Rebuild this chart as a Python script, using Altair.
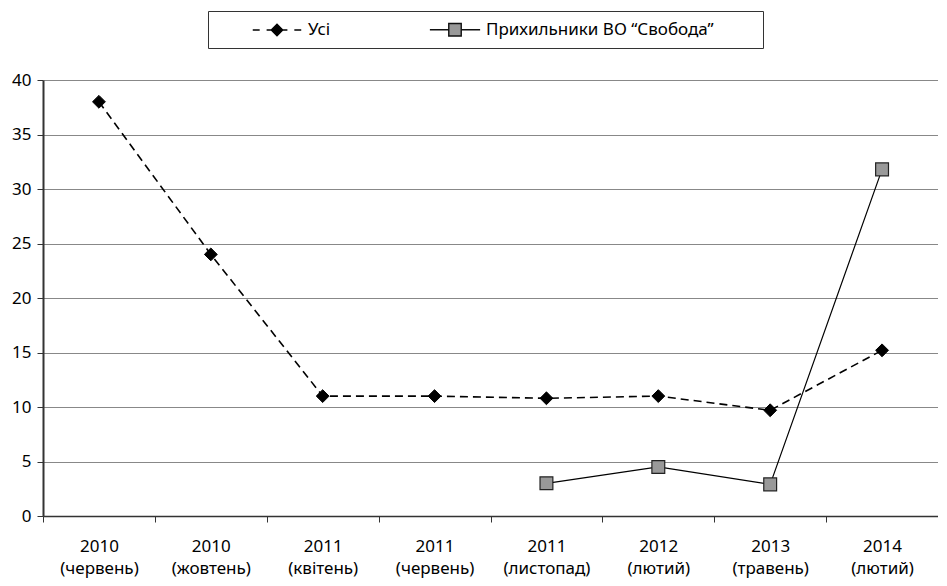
import altair as alt
import pandas as pd

categories = ["2010 (червень)", "2010 (жовтень)", "2011 (квітень)", "2011 (червень)",
              "2011 (листопад)", "2012 (лютий)", "2013 (травень)", "2014 (лютий)"]
series_names = ["Усі", "Прихильники ВО “Свобода”"]
all_values = [38, 24, 11, 11, 10.8, 11, 9.7, 15.2]
svoboda_categories = ["2011 (листопад)", "2012 (лютий)", "2013 (травень)", "2014 (лютий)"]
svoboda_values = [3.0, 4.5, 2.9, 31.8]
y_ticks = [0, 5, 10, 15, 20, 25, 30, 35, 40]

rows = [{"cat": c, "value": v, "series": series_names[0]} for c, v in zip(categories, all_values)]
rows += [{"cat": c, "value": v, "series": series_names[1]} for c, v in zip(svoboda_categories, svoboda_values)]
df = pd.DataFrame(rows)

FONT = "Noto Sans"

legend_paths = [
    "M-2.8,0H-2M-1.2,0H-0.55M0,-0.66L0.66,0L0,0.66L-0.66,0ZM0.55,0H1.2M2,0H2.8",
    "M-2.9,0H-0.72M-0.72,-0.72H0.72V0.72H-0.72ZM0.72,0H2.9",
]

x_enc = alt.X("cat:N", sort=categories,
              scale=alt.Scale(type="band", domain=categories, paddingInner=0, paddingOuter=0),
              axis=alt.Axis(title=None, labelAngle=0, tickBand="extent", grid=False,
                            labelExpr="split(datum.label, ' ')",
                            labelFont=FONT, labelFontSize=17, labelColor="black",
                            labelLineHeight=22, labelPadding=16, tickSize=6,
                            tickColor="#333", domainColor="#333", domainWidth=1.5))
y_enc = alt.Y("value:Q", scale=alt.Scale(domain=[0, 40], nice=False),
              axis=alt.Axis(title=None, values=y_ticks, grid=True, gridColor="#888",
                            gridWidth=1, labelFont=FONT, labelFontSize=17,
                            labelColor="black", tickSize=6, labelPadding=6,
                            tickColor="#333", domainColor="#333", domainWidth=2))

base = alt.Chart(df)

line_all = base.transform_filter(alt.datum.series == series_names[0]).mark_line(
    color="black", strokeWidth=1.6, strokeDash=[8, 5]).encode(x=x_enc, y=y_enc)
line_sv = base.transform_filter(alt.datum.series == series_names[1]).mark_line(
    color="black", strokeWidth=1.2).encode(x=x_enc, y=y_enc)
pts_all = base.transform_filter(alt.datum.series == series_names[0]).mark_point(
    shape="diamond", filled=True, fill="black", stroke="black", strokeWidth=1,
    size=165, opacity=1).encode(x=x_enc, y=y_enc)
pts_sv = base.transform_filter(alt.datum.series == series_names[1]).mark_point(
    shape="square", filled=True, fill="#999999", stroke="#222", strokeWidth=1.2,
    size=165, opacity=1).encode(x=x_enc, y=y_enc)

leg = alt.Legend(title=" ", titleOrient="right", titlePadding=40, orient="none",
                 legendX=165, legendY=-69, direction="horizontal",
                 strokeColor="#333", padding=9, symbolSize=300, symbolOffset=50.5,
                 symbolStrokeColor="black", symbolStrokeWidth=1.4,
                 labelFont=FONT, labelFontSize=17, labelColor="black", labelLimit=0,
                 labelOffset=21.5, columnPadding=64)

legend_layer = base.transform_filter("false").mark_point(
    filled=True, stroke="black", strokeWidth=1.4, size=300, opacity=1).encode(
    shape=alt.Shape("series:N", scale=alt.Scale(domain=series_names, range=legend_paths), legend=leg),
    fill=alt.Fill("series:N", scale=alt.Scale(domain=series_names, range=["black", "#999999"]), legend=leg),
    stroke=alt.Stroke("series:N", scale=alt.Scale(domain=series_names, range=["black", "#111111"]), legend=leg),
)

chart = alt.layer(line_all, line_sv, pts_all, pts_sv, legend_layer).properties(
    width=895, height=436,
    autosize=alt.AutoSizeParams(type="none"),
    padding={"left": 35, "top": 72, "right": 0, "bottom": 62},
).configure_view(stroke=None)

chart.save("out.html", embed_options={"renderer": "svg", "actions": False})
